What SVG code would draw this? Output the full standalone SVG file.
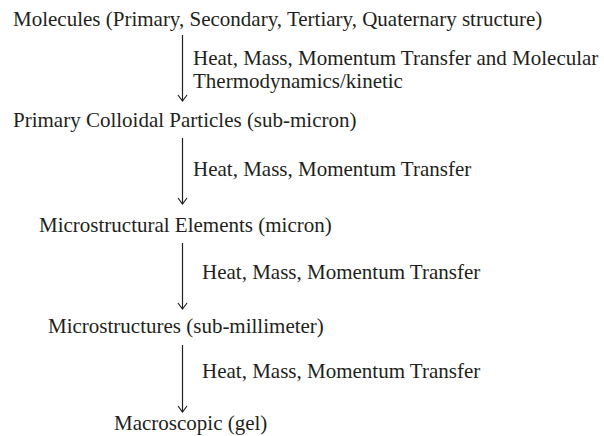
<svg xmlns="http://www.w3.org/2000/svg" width="604" height="436" viewBox="0 0 604 436">
<defs>
<style>
text{font-family:"Liberation Serif","Times New Roman",serif;font-size:21px;fill:#231f20}
.c line,.c polyline{stroke:#231f20;stroke-width:1.2;fill:none}
</style>
</defs>
<rect width="604" height="436" fill="#fff"/>
<g id="n1"><text x="13" y="26">Molecules (Primary, Secondary, Tertiary, Quaternary structure)</text></g>
<g id="n2"><text x="13" y="127">Primary Colloidal Particles (sub-micron)</text></g>
<g id="n3"><text x="39" y="232">Microstructural Elements (micron)</text></g>
<g id="n4"><text x="48" y="333">Microstructures (sub-millimeter)</text></g>
<g id="n5"><text x="114" y="430">Macroscopic (gel)</text></g>
<g id="labels">
<text x="193" y="65">Heat, Mass, Momentum Transfer and Molecular</text>
<text x="193" y="88">Thermodynamics/kinetic</text>
<text x="193" y="176">Heat, Mass, Momentum Transfer</text>
<text x="202" y="279">Heat, Mass, Momentum Transfer</text>
<text x="202" y="378">Heat, Mass, Momentum Transfer</text>
</g>
<g id="connectors" class="c">
<line x1="182.5" y1="35" x2="182.5" y2="101"/><polyline points="178,95 182.5,101 187,95"/>
<line x1="182.5" y1="138" x2="182.5" y2="204"/><polyline points="178,198 182.5,204 187,198"/>
<line x1="182.5" y1="243" x2="182.5" y2="309"/><polyline points="178,303 182.5,309 187,303"/>
<line x1="182.5" y1="345" x2="182.5" y2="412"/><polyline points="178,406 182.5,412 187,406"/>
</g>
</svg>
